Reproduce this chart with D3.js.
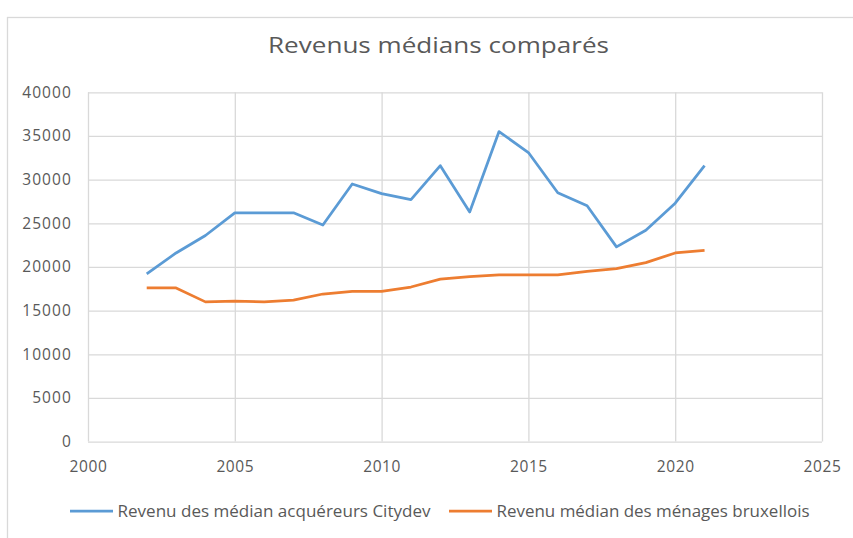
<!DOCTYPE html>
<html>
<head>
<meta charset="UTF-8">
<style>
body { margin: 0; background: #fff; }
svg text { font-family: "Open Sans", sans-serif; fill: #595959; }
.grid line { stroke: #d9d9d9; stroke-width: 1.3px; }
.line { fill: none; stroke-width: 2.75px; stroke-linejoin: round; }
</style>
</head>
<body>
<svg width="853" height="538"></svg>
<script src="https://cdn.jsdelivr.net/npm/d3@7"></script>
<script>
// years and values
var years = [2002, 2003, 2004, 2005, 2006, 2007, 2008, 2009, 2010, 2011,
             2012, 2013, 2014, 2015, 2016, 2017, 2018, 2019, 2020, 2021];
var citydev = [19200, 21600, 23600, 26200, 26200, 26200, 24800, 29500, 28400, 27700,
               31600, 26300, 35500, 33100, 28500, 27000, 22300, 24200, 27300, 31600];
var bruxelles = [17600, 17600, 16000, 16100, 16000, 16200, 16900, 17200, 17200, 17700,
                 18600, 18900, 19100, 19100, 19100, 19500, 19800, 20500, 21600, 21900];
var xTicks = [2000, 2005, 2010, 2015, 2020, 2025];
var yTicks = [0, 5000, 10000, 15000, 20000, 25000, 30000, 35000, 40000];
var seriesNames = ["Revenu des médian acquéreurs Citydev", "Revenu médian des ménages bruxellois"];
var colors = ["#5b9bd5", "#ed7d31"];

var svg = d3.select("svg"),
    margin = {top: 92.3, right: 31, bottom: 96.4, left: 88},
    width = svg.attr("width") - margin.left - margin.right,
    height = svg.attr("height") - margin.top - margin.bottom;

// chart frame
svg.append("rect")
    .attr("x", 7.5).attr("y", 17.5)
    .attr("width", 900).attr("height", 600)
    .attr("fill", "none").attr("stroke", "#d9d9d9").attr("stroke-width", 1.3);

svg.append("text")
    .attr("x", 268).attr("y", 53)
    .attr("textLength", 341)
    .attr("lengthAdjust", "spacingAndGlyphs")
    .style("font-size", "22px")
    .text("Revenus médians comparés");

var g = svg.append("g").attr("transform", "translate(" + margin.left + "," + margin.top + ")");

var x = d3.scaleLinear().domain([2000, 2025]).range([0, width]),
    y = d3.scaleLinear().domain([0, 40000]).range([height, 0]);

// horizontal grid + y labels
var yAxis = g.append("g").attr("class", "grid")
    .call(d3.axisLeft(y).tickValues(yTicks).tickSize(-width).tickPadding(16).tickFormat(d3.format("d")));
yAxis.select(".domain").remove();
yAxis.selectAll("text").style("font-size", "15.5px").style("letter-spacing", "1.1px");

// vertical grid + x labels
var xAxis = g.append("g").attr("class", "grid")
    .attr("transform", "translate(0," + height + ")")
    .call(d3.axisBottom(x).tickValues(xTicks).tickSize(-height).tickPadding(19).tickFormat(d3.format("d")));
xAxis.select(".domain").remove();
xAxis.selectAll("text").style("font-size", "15.5px").style("letter-spacing", "0.6px");

var line = d3.line()
    .x(function(d, i) { return x(years[i]); })
    .y(function(d) { return y(d); });

[citydev, bruxelles].forEach(function(s, i) {
  g.append("path")
      .attr("class", "line")
      .attr("d", line(s))
      .style("stroke", colors[i]);
});

// legend
var legendX = [70, 449];
var leg = svg.selectAll(".leg")
    .data(seriesNames)
    .enter().append("g")
      .attr("class", "leg")
      .attr("transform", function(d, i) { return "translate(" + legendX[i] + ",511)"; });

leg.append("line")
    .attr("x1", 0).attr("x2", 43)
    .attr("stroke", function(d, i) { return colors[i]; })
    .attr("stroke-width", 2.75);

leg.append("text")
    .attr("x", 47.5)
    .attr("dy", "0.35em")
    .attr("textLength", 313)
    .attr("lengthAdjust", "spacingAndGlyphs")
    .style("font-size", "16.5px")
    .text(function(d) { return d; });
</script>
</body>
</html>
